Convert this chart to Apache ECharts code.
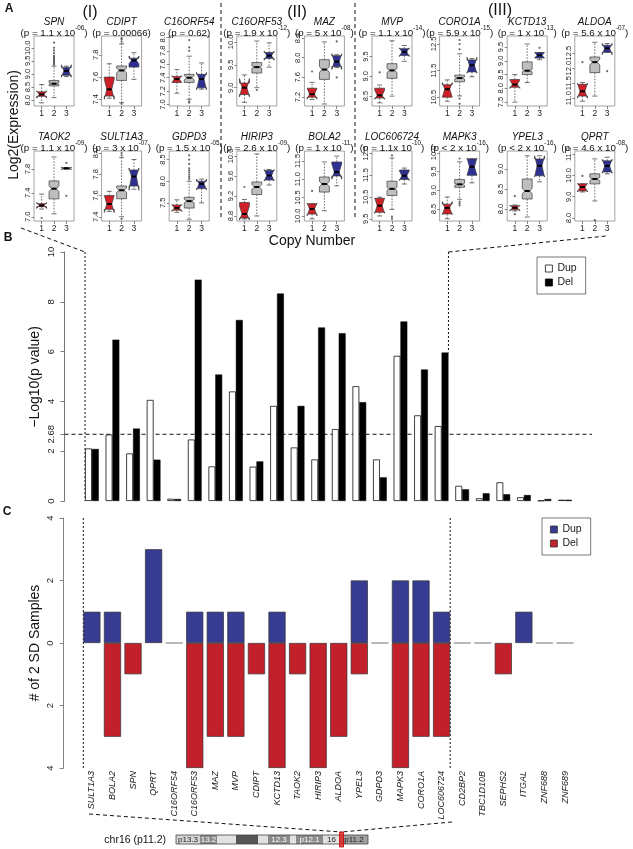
<!DOCTYPE html>
<html><head><meta charset="utf-8">
<script src="https://cdn.jsdelivr.net/npm/echarts@6/dist/echarts.min.js"></script>
<style>html,body{margin:0;padding:0;background:#fff;}#c{width:633px;height:849px;}</style>
</head><body><div id="c"></div>
<script>
// ---------------- Panel A data ----------------
const boxGenes = ['SPN','CDIPT','C16ORF54','C16ORF53','MAZ','MVP','CORO1A','KCTD13','ALDOA',
                  'TAOK2','SULT1A3','GDPD3','HIRIP3','BOLA2','LOC606724','MAPK3','YPEL3','QPRT'];
const boxP = ['= 1.1 x 10^-06','= 0.00066','= 0.62','= 1.9 x 10^-12','= 5 x 10^-08','= 1.1 x 10^-14','= 5.9 x 10^-15','= 1 x 10^-13','= 5.6 x 10^-07',
              '= 1.1 x 10^-09','= 3 x 10^-07','= 1.5 x 10^-05','= 2.6 x 10^-09','= 1 x 10^-11','= 1.1x 10^-10','< 2 x 10^-16','< 2 x 10^-16','= 4.6 x 10^-08'];
const boxYMin = [7.78,7.34,6.98,8.6,7.02,8.25,10.17,7.36,10.74, 6.93,7.36,7.08,8.7,9.86,9.4,8.18,7.7,7.86];
const boxYMax = [10.45,7.97,8.02,10.13,8.44,10.02,12.8,9.9,13.07, 8.1,8.02,8.7,10.1,11.77,12.6,10.05,9.45,11.14];
const boxTicks = [[8,8.5,9,9.5,10],[7.4,7.6,7.8],[7,7.2,7.4,7.6,7.8,8],[9,9.5,10],[7.2,7.6,8,8.4],[8.5,9,9.5],[10.5,11.5,12.5],[7.5,8,8.5,9,9.5],[11,11.5,12,12.5],
                  [7,7.4,7.8],[7.4,7.6,7.8,8],[7.5,8,8.5],[8.8,9.2,9.6,10],[10,10.5,11,11.5],[9.5,10.5,11.5,12.5],[8.5,9,9.5,10],[8,8.5,9],[8,9,10,11]];
// each: [lowWhisker, Q1, notchLow, median, notchHigh, Q3, highWhisker]
const boxRed = [[7.9,8.15,8.08,8.22,8.36,8.32,8.6],[7.41,7.43,7.4,7.49,7.58,7.6,7.72],[7.17,7.33,7.33,7.38,7.43,7.42,7.52],[8.68,8.85,8.8,9.0,9.2,9.1,9.28],[7.15,7.2,7.16,7.26,7.38,7.38,7.5],[8.33,8.45,8.42,8.52,8.65,8.7,8.78],[10.35,10.5,10.5,10.8,11.05,10.97,11.15],[7.5,8.04,8.0,8.14,8.3,8.32,8.5],[10.9,11.07,11.0,11.23,11.5,11.46,11.52],
                [7.13,7.17,7.14,7.19,7.24,7.22,7.38],[7.45,7.47,7.44,7.52,7.6,7.6,7.64],[7.28,7.33,7.3,7.38,7.46,7.45,7.57],[8.74,8.76,8.72,8.84,9.0,9.07,9.13],[9.92,10.05,10.0,10.19,10.35,10.33,10.33],[9.63,9.8,9.75,10.1,10.45,10.44,10.49],[8.24,8.37,8.35,8.53,8.7,8.63,8.82],[7.95,7.98,7.95,8.03,8.1,8.08,8.1],[9.22,9.27,9.22,9.45,9.62,9.6,9.6]];
const boxGray = [[8.1,8.55,8.6,8.63,8.67,8.75,9.3],[7.37,7.57,7.64,7.66,7.68,7.7,7.9],[7.08,7.33,7.37,7.4,7.43,7.45,7.72],[9.0,9.32,9.42,9.45,9.48,9.55,10.02],[7.06,7.56,7.7,7.76,7.82,7.96,8.32],[8.5,8.95,9.1,9.15,9.2,9.32,9.9],[10.55,11.08,11.18,11.22,11.27,11.33,12.13],[8.21,8.5,8.6,8.64,8.7,8.96,9.61],[11.07,11.85,12.1,12.2,12.3,12.37,12.86],
                 [7.05,7.3,7.42,7.47,7.52,7.6,8.0],[7.4,7.57,7.63,7.65,7.67,7.69,7.96],[7.12,7.38,7.5,7.54,7.58,7.63,8.0],[8.8,9.23,9.33,9.38,9.43,9.48,10.04],[10.14,10.65,10.8,10.87,10.94,11.06,11.47],[9.93,10.57,10.8,10.87,10.94,11.22,12.28],[8.76,9.08,9.13,9.16,9.19,9.29,9.76],[7.8,8.25,8.38,8.45,8.52,8.75,9.33],[8.8,9.6,9.75,9.83,9.9,10.07,10.77]];
const boxBlue = [[8.9,8.95,8.88,9.12,9.35,9.25,9.3],[7.58,7.69,7.72,7.75,7.79,7.77,7.82],[7.23,7.25,7.22,7.38,7.48,7.45,7.62],[9.45,9.64,9.6,9.7,9.8,9.77,9.98],[7.8,7.82,7.76,7.92,8.08,8.04,8.06],[9.38,9.53,9.5,9.62,9.72,9.7,9.78],[11.27,11.45,11.4,11.7,12.0,11.9,11.95],[9.04,9.1,9.1,9.2,9.3,9.3,9.3],[12.53,12.53,12.45,12.66,12.82,12.76,12.82],
                 [7.8,7.8,7.79,7.81,7.83,7.82,7.82],[7.66,7.69,7.65,7.78,7.86,7.84,7.94],[7.5,7.83,7.8,7.94,8.05,8.0,8.05],[9.42,9.52,9.5,9.61,9.73,9.71,9.73],[10.82,11.09,11.0,11.2,11.42,11.47,11.63],[11.09,11.3,11.25,11.47,11.7,11.73,11.82],[9.2,9.4,9.4,9.63,9.86,9.84,9.84],[8.68,8.83,8.8,9.08,9.33,9.25,9.33],[10.07,10.16,10.1,10.44,10.75,10.68,10.85]];
// outliers: [group, value]
const boxOutliers = [
  [[2,9.35],[2,9.4],[2,9.45],[2,9.5],[2,9.55],[2,9.6],[2,9.65],[2,9.7],[2,9.8],[2,9.9],[2,10.0],[2,10.2]],
  [[2,7.92],[2,7.94],[2,7.95],[2,7.36]],
  [[2,7.8],[2,7.85],[2,7.96],[2,7.05],[2,7.03]],
  [[2,8.95]],
  [[1,7.72],[3,8.33],[3,7.6]],
  [[1,9.1]],
  [[2,12.3],[2,12.5],[2,12.65],[2,10.45],[2,10.25]],
  [[3,9.47]],
  [[1,12.2],[3,11.9]],
  [[1,6.98],[3,7.9],[3,7.35]],
  [[2,7.98],[2,8.0],[2,7.38]],
  [[2,8.05],[2,8.1],[2,8.15],[2,8.2],[2,8.25],[2,8.3],[2,8.4],[2,8.5],[2,8.6]],
  [[1,9.38]],
  [[1,10.68]],
  [[2,9.6],[2,9.5],[2,12.4]],
  [[2,8.7],[2,8.65],[2,8.6],[2,9.85]],
  [[1,8.32],[1,7.87]],
  [[1,9.97],[2,7.9]]
];

// ---------------- Panel B / C data ----------------
const genes = ['SULT1A3','BOLA2','SPN','QPRT','C16ORF54','C16ORF53','MAZ','MVP','CDIPT','KCTD13','TAOK2','HIRIP3','ALDOA','YPEL3','GDPD3','MAPK3','CORO1A','LOC606724','CD2BP2','TBC1D10B','SEPHS2','ITGAL','ZNF688','ZNF689'];
const pDup = [2.11,2.67,1.91,4.06,0.09,2.47,1.39,4.40,1.38,3.82,2.15,1.67,2.89,4.61,1.67,5.83,3.44,3.01,0.61,0.11,0.75,0.15,0.02,0.05];
const pDel = [2.09,6.48,2.91,1.66,0.08,8.89,5.08,7.27,1.59,8.33,3.82,6.97,6.74,3.97,0.95,7.21,5.28,5.96,0.47,0.31,0.27,0.24,0.08,0.05];
const bTicks = [0,2,2.68,4,6,8,10];
const threshold = 2.68;
const sdDup = [1,1,0,3,0,1,1,1,0,1,0,0,0,2,0,2,2,1,0,0,0,1,0,0];
const sdDel = [0,3,1,0,0,4,3,3,1,4,1,4,3,1,0,4,3,3,0,0,1,0,0,0];
const cTicks = [-4,-2,0,2,4];

// ---------------- styling / layout ----------------
const FONT = "'Liberation Sans', Arial, Helvetica, sans-serif";
const RED = '#CF2027', GRAY = '#BEBEBE', BLUE = '#2E3192';
const BOXCOL = [RED, GRAY, BLUE];
const C_BLUE = '#373C92', C_RED = '#C2202A';
const PW = 40, PH = 70;
const panelLeft = i => 34 + 67.6 * i;
const rowTop = [36, 151];
const B_LEFT = 81.6, B_RIGHT = 57.7;

const chart = echarts.init(document.getElementById('c'), null, {renderer: 'canvas'});

const grids = [], xAxes = [], yAxes = [], series = [];
function renderBox(params, api) {
  const g = api.value(0);
  const lw = api.value(1), q1 = api.value(2), cl = api.value(3), med = api.value(4), ch = api.value(5), q3 = api.value(6), hw = api.value(7);
  const unit = api.size([1, 0])[0];
  const w = 0.4 * unit;
  const cx = api.coord([g, med])[0];
  const Y = t => api.coord([g, t])[1];
  const dash = {stroke: '#333', lineWidth: 0.7, lineDash: [1.6, 1.4]};
  const solid = {stroke: '#333', lineWidth: 0.7};
  return {type: 'group', children: [
    {type: 'line', shape: {x1: cx, y1: Y(q3), x2: cx, y2: Y(hw)}, style: dash},
    {type: 'line', shape: {x1: cx, y1: Y(q1), x2: cx, y2: Y(lw)}, style: dash},
    {type: 'line', shape: {x1: cx - w / 2, y1: Y(hw), x2: cx + w / 2, y2: Y(hw)}, style: solid},
    {type: 'line', shape: {x1: cx - w / 2, y1: Y(lw), x2: cx + w / 2, y2: Y(lw)}, style: solid},
    {type: 'polygon', shape: {points: [[cx - w, Y(q1)], [cx + w, Y(q1)], [cx + w, Y(cl)], [cx + w / 2, Y(med)], [cx + w, Y(ch)], [cx + w, Y(q3)], [cx - w, Y(q3)], [cx - w, Y(ch)], [cx - w / 2, Y(med)], [cx - w, Y(cl)]]},
     style: {fill: BOXCOL[g - 1], stroke: '#3a3a3a', lineWidth: 0.7}},
    {type: 'line', shape: {x1: cx - w / 2, y1: Y(med), x2: cx + w / 2, y2: Y(med)}, style: {stroke: '#000', lineWidth: 2}}
  ]};
}

for (let k = 0; k < 18; k++) {
  const r = Math.floor(k / 9), i = k % 9;
  grids.push({left: panelLeft(i), top: rowTop[r], width: PW, height: PH, show: true, borderColor: '#8a8a8a', borderWidth: 0.8, backgroundColor: 'transparent', containLabel: false, outerBoundsMode: 'none'});
  xAxes.push({type: 'value', gridIndex: k, min: 0.38, max: 3.62, splitLine: {show: false}, axisLine: {show: false},
    axisTick: {show: true, customValues: [1, 2, 3], length: 3, lineStyle: {color: '#555', width: 0.7}},
    axisLabel: {customValues: [1, 2, 3], fontSize: 8.5, margin: 3, color: '#222', fontFamily: FONT}});
  yAxes.push({type: 'value', gridIndex: k, min: boxYMin[k], max: boxYMax[k], splitLine: {show: false}, axisLine: {show: false},
    axisTick: {show: true, customValues: boxTicks[k], length: 2.5, lineStyle: {color: '#555', width: 0.7}},
    axisLabel: {customValues: boxTicks[k], rotate: 90, fontSize: 7.5, margin: 2, color: '#222', fontFamily: FONT, formatter: v => Number(v).toFixed(1)}});
  const data = [[1].concat(boxRed[k]), [2].concat(boxGray[k]), [3].concat(boxBlue[k])];
  series.push({type: 'custom', name: 'box-' + boxGenes[k], xAxisIndex: k, yAxisIndex: k, renderItem: renderBox, data: data, silent: true, animation: false});
  series.push({type: 'scatter', name: 'out-' + boxGenes[k], xAxisIndex: k, yAxisIndex: k, data: boxOutliers[k], symbol: 'circle', symbolSize: 2.2,
    itemStyle: {color: '#444'}, silent: true, animation: false});
}

// Panel B
grids.push({left: B_LEFT, right: B_RIGHT, top: 252, bottom: 849 - 501, containLabel: false, outerBoundsMode: 'none'});
xAxes.push({type: 'category', gridIndex: 18, data: genes, axisLine: {show: false}, axisTick: {show: false}, axisLabel: {show: false}});
yAxes.push({type: 'value', gridIndex: 18, min: 0, max: 10, offset: 17, splitLine: {show: false},
  axisLine: {show: true, lineStyle: {color: '#555', width: 0.8}},
  axisTick: {show: true, customValues: bTicks, length: 4, lineStyle: {color: '#555', width: 0.8}},
  axisLabel: {customValues: bTicks, rotate: 90, fontSize: 9.5, margin: 8, color: '#222', fontFamily: FONT, formatter: v => String(v)}});
series.push({type: 'bar', name: 'Dup', xAxisIndex: 18, yAxisIndex: 18, data: pDup, barWidth: 6.86, barGap: '0%',
  itemStyle: {color: '#fff', borderColor: '#111', borderWidth: 0.8}, animation: false});
series.push({type: 'bar', name: 'Del', xAxisIndex: 18, yAxisIndex: 18, data: pDel, barWidth: 6.86, barGap: '0%',
  itemStyle: {color: '#000', borderColor: '#000', borderWidth: 0.5}, animation: false});

// Panel C
grids.push({left: B_LEFT, right: B_RIGHT, top: 518, bottom: 849 - 768, containLabel: false, outerBoundsMode: 'none'});
xAxes.push({type: 'category', gridIndex: 19, data: genes, axisLine: {show: false}, axisTick: {show: false},
  axisLabel: {interval: 0, rotate: 90, fontSize: 9, fontStyle: 'italic', margin: 3, color: '#222', fontFamily: FONT}});
yAxes.push({type: 'value', gridIndex: 19, min: -4, max: 4, offset: 18, splitLine: {show: false},
  axisLine: {show: true, lineStyle: {color: '#666', width: 0.8}},
  axisTick: {show: true, customValues: cTicks, length: 4, lineStyle: {color: '#666', width: 0.8}},
  axisLabel: {customValues: cTicks, rotate: 90, fontSize: 9.5, margin: 8, color: '#222', fontFamily: FONT, formatter: v => String(Math.abs(v))}});
series.push({type: 'bar', name: 'Dup', xAxisIndex: 19, yAxisIndex: 19, stack: 'sd', data: sdDup.map(v => v === 0 ? '-' : v), barWidth: '83.3%',
  itemStyle: {color: C_BLUE, borderColor: '#333', borderWidth: 0.7}, animation: false});
series.push({type: 'bar', name: 'Del', xAxisIndex: 19, yAxisIndex: 19, stack: 'sd', data: sdDel.map(v => v === 0 ? '-' : -v), barWidth: '83.3%',
  itemStyle: {color: C_RED, borderColor: '#333', borderWidth: 0.7}, animation: false});
series.push({type: 'custom', name: 'zero', xAxisIndex: 19, yAxisIndex: 19, silent: true, animation: false,
  data: genes.map((g, i) => (sdDup[i] === 0 && sdDel[i] === 0) ? [i, 0] : null).filter(d => d),
  renderItem: (params, api) => {
    const p = api.coord([api.value(0), 0]);
    const half = api.size([1, 0])[0] / 1.2 / 2;
    return {type: 'line', shape: {x1: p[0] - half, y1: p[1], x2: p[0] + half, y2: p[1]}, style: {stroke: '#9a9a9a', lineWidth: 1.4}};
  }});

const legendCommon = {orient: 'vertical', icon: 'rect', itemWidth: 7, itemHeight: 7, itemGap: 3, selectedMode: false,
  borderColor: '#555', borderWidth: 0.8, padding: [6, 9, 6, 8], textStyle: {fontSize: 10.5, color: '#222', fontFamily: FONT}};
const legends = [
  Object.assign({}, legendCommon, {left: 537, top: 257, data: [
    {name: 'Dup', itemStyle: {color: '#fff', borderColor: '#111', borderWidth: 0.8}},
    {name: 'Del', itemStyle: {color: '#000', borderColor: '#000', borderWidth: 0.8}}]}),
  Object.assign({}, legendCommon, {left: 542, top: 518, data: [
    {name: 'Dup', itemStyle: {color: C_BLUE, borderColor: '#333', borderWidth: 0.8}},
    {name: 'Del', itemStyle: {color: C_RED, borderColor: '#333', borderWidth: 0.8}}]})
];

chart.setOption({backgroundColor: '#fff', animation: false, grid: grids, xAxis: xAxes, yAxis: yAxes, series: series, legend: legends});

// ---------------- annotations (text, connectors, ideogram) ----------------
const G = [];
const txt = (x, y, text, size, opts) => Object.assign({type: 'text', x: x, y: y, silent: true,
  style: Object.assign({text: text, fontSize: size, fontFamily: FONT, fill: '#111', align: 'center', verticalAlign: 'middle', textAlign: 'center', textVerticalAlign: 'middle'}, (opts && opts.style) || {})},
  (opts && opts.el) || {});
const dline = (x1, y1, x2, y2, dash, w) => ({type: 'line', silent: true, shape: {x1, y1, x2, y2}, style: {stroke: '#111', lineWidth: w || 1, lineDash: dash || [4, 3]}});

G.push(txt(9, 9, 'A', 12, {style: {fontWeight: 'bold'}}));
G.push(txt(8, 238, 'B', 12, {style: {fontWeight: 'bold'}}));
G.push(txt(7, 512, 'C', 12, {style: {fontWeight: 'bold'}}));
G.push(txt(90, 13, '(I)', 16));
G.push(txt(297, 13, '(II)', 16));
G.push(txt(500, 11, '(III)', 16));
G.push(txt(14, 125, 'Log2(Expression)', 14, {el: {rotation: Math.PI / 2}}));
G.push(txt(312, 241, 'Copy Number', 14));
G.push(txt(35, 377, '\u2212Log10(p value)', 14, {el: {rotation: Math.PI / 2}}));
G.push(txt(35, 643, '# of 2 SD Samples', 14, {el: {rotation: Math.PI / 2}}));

for (let k = 0; k < 18; k++) {
  const r = Math.floor(k / 9), i = k % 9;
  const cx = panelLeft(i) + PW / 2;
  const gy = r === 0 ? 22.5 : 137.5;
  G.push(txt(cx, gy, boxGenes[k], 10, {style: {fontStyle: 'italic'}}));
  const parts = boxP[k].split('^');
  let rich;
  if (parts.length === 2) rich = '{a|(p ' + parts[0] + '}{s|' + parts[1] + '}{a|)}';
  else rich = '{a|(p ' + parts[0] + ')}';
  G.push({type: 'text', x: cx, y: gy + 9.5, silent: true, style: {text: rich, align: 'center', verticalAlign: 'middle', textAlign: 'center', textVerticalAlign: 'middle',
    rich: {a: {fontSize: 9.8, fontFamily: FONT, fill: '#111', color: '#111', lineHeight: 13, verticalAlign: 'bottom', align: 'left'},
           s: {fontSize: 6.3, fontFamily: FONT, fill: '#111', color: '#111', lineHeight: 7, verticalAlign: 'top', align: 'left'}}}});
}
// group separators in A
G.push(dline(221, 3, 221, 217, [4, 3]));
G.push(dline(355, 3, 355, 217, [4, 3]));

// positions from axes
const bx0 = chart.convertToPixel({xAxisIndex: 18}, 0);
const bx1 = chart.convertToPixel({xAxisIndex: 18}, 1);
const bBand = bx1 - bx0, bw = bBand / 3;
const bLeft = bx0 - bw;
const bRight = chart.convertToPixel({xAxisIndex: 18}, 17) + bw;
const y10 = chart.convertToPixel({yAxisIndex: 18}, 10);
const y0 = chart.convertToPixel({yAxisIndex: 18}, 0);
const yThr = chart.convertToPixel({yAxisIndex: 18}, threshold);
const yTopLOC = chart.convertToPixel({yAxisIndex: 18}, pDel[17]);
G.push(dline(64.5, yThr, 592, yThr, [4, 3]));
G.push(dline(bLeft, y10, bLeft, y0, [2, 2]));
G.push(dline(bRight, y10, bRight, yTopLOC, [2, 2]));
G.push(dline(21, 228, bLeft, y10, [4, 3]));
G.push(dline(bRight, y10, 606, 236, [4, 3]));

const cBand = chart.convertToPixel({xAxisIndex: 19}, 1) - chart.convertToPixel({xAxisIndex: 19}, 0);
const cHalf = cBand / 1.2 / 2;
const cLeft = chart.convertToPixel({xAxisIndex: 19}, 0) - cHalf;
const cRight = chart.convertToPixel({xAxisIndex: 19}, 17) + cHalf;
const c4 = chart.convertToPixel({yAxisIndex: 19}, 4);
const cm4 = chart.convertToPixel({yAxisIndex: 19}, -4);
G.push(dline(cLeft, c4, cLeft, cm4 + 2, [2, 2]));
G.push(dline(cRight, c4, cRight, cm4 + 2, [2, 2]));

// ideogram
const markX = 341.5;
G.push(dline(89, 814, markX, 832, [4, 3]));
G.push(dline(452, 822, markX, 832, [4, 3]));
G.push(txt(166, 840, 'chr16 (p11.2)', 10.5, {style: {align: 'right', textAlign: 'right'}}));
const IY = 835, IH = 9;
const bands = [[176,200,'#d6d6d6','p13.3','#222'],[200,217,'#8a8a8a','13.2','#fff'],[217,236,'#e2e2e2','',''],[236,258,'#555','',''],[258,268,'#e2e2e2','',''],
  [268,290,'#8a8a8a','12.3','#fff'],[290,296,'#e2e2e2','',''],[296,323,'#8a8a8a','p12.1','#fff'],[323,340,'#e2e2e2','16','#222'],[340,368,'#a0a0a0','p11.2','#222']];
bands.forEach(b => {
  G.push({type: 'rect', silent: true, shape: {x: b[0], y: IY, width: b[1] - b[0], height: IH}, style: {fill: b[2]}});
  if (b[3]) G.push(txt((b[0] + b[1]) / 2, IY + IH / 2 + 0.5, b[3], 8, {style: {fill: b[4]}}));
});
G.push({type: 'rect', silent: true, shape: {x: 176, y: IY, width: 192, height: IH}, style: {fill: 'none', stroke: '#444', lineWidth: 0.8}});
G.push({type: 'rect', silent: true, shape: {x: markX - 2, y: IY - 3, width: 4, height: IH + 6}, style: {fill: 'rgba(220,40,40,0.85)', stroke: '#c00', lineWidth: 0.8}});

chart.setOption({graphic: {elements: G}});
</script>
</body></html>
